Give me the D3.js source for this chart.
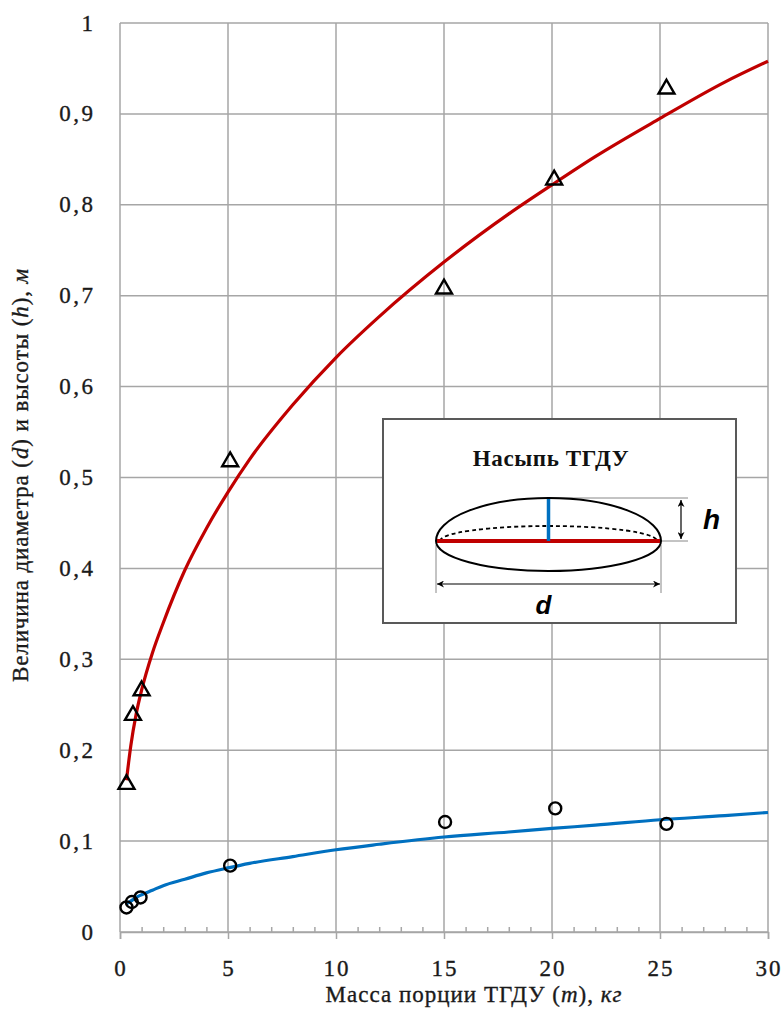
<!DOCTYPE html>
<html>
<head>
<meta charset="utf-8">
<script src="https://cdn.jsdelivr.net/npm/d3@7/dist/d3.min.js"></script>
<style>
  html, body { margin: 0; padding: 0; background: #fff; }
  svg { display: block; }
  .axtxt { stroke: #1a1a1a; stroke-width: 0.35; paint-order: stroke; }
</style>
</head>
<body>
<svg id="chart" width="783" height="1028"></svg>
<script>
// ---- Data ----
const massD = [0.3, 0.6, 1.0, 5.1, 15.0, 20.1, 25.3];          // m, kg (triangles)
const diamD = [0.165, 0.241, 0.268, 0.52, 0.71, 0.83, 0.93];    // d, m
const massH = [0.3, 0.55, 0.95, 5.1, 15.05, 20.15, 25.3];       // m, kg (circles)
const heightH = [0.027, 0.033, 0.038, 0.073, 0.121, 0.136, 0.119]; // h, m

const trendM = [0.3, 0.5, 0.75, 1, 1.5, 2, 3, 4, 5, 6, 8, 10, 12, 15, 18, 20, 22, 25, 28, 30];
const trendD = [0.167, 0.205, 0.24, 0.266, 0.307, 0.34, 0.398, 0.444, 0.484, 0.52, 0.58, 0.632, 0.677, 0.737, 0.79, 0.822, 0.853, 0.895, 0.935, 0.958];
const trendH = [0.031, 0.034, 0.038, 0.041, 0.046, 0.051, 0.058, 0.065, 0.0705, 0.0755, 0.083, 0.0905, 0.0965, 0.1045, 0.11, 0.114, 0.1175, 0.1235, 0.128, 0.1315];

const xTicks = [0, 5, 10, 15, 20, 25, 30];
const yTicks = [0, 0.1, 0.2, 0.3, 0.4, 0.5, 0.6, 0.7, 0.8, 0.9, 1];
const xMinorTicks = d3.range(0, 31, 1);

const xTitleParts = [["Масса порции ТГДУ (", false], ["m", true], ["), ", false], ["кг", true]];
const yTitleParts = [["Величина диаметра (", false], ["d", true], [") и высоты (", false], ["h", true], ["), ", false], ["м", true]];
const insetTitle = "Насыпь ТГДУ";

// ---- Layout ----
const svg = d3.select("#chart");
const margin = { left: 120, top: 23, right: 15, bottom: 96 };
const W = 783, H = 1028;
const x = d3.scaleLinear().domain([0, 30]).range([margin.left, W - margin.right]);
const y = d3.scaleLinear().domain([0, 1]).range([H - margin.bottom, margin.top]);

const gridColor = "#a6a6a6";
const textColor = "#1a1a1a";
const serif = "'Liberation Serif', 'Times New Roman', serif";
const sans = "'Liberation Sans', Arial, sans-serif";

// grid
const grid = svg.append("g");
grid.selectAll("line.h").data(yTicks).join("line")
  .attr("x1", x(0)).attr("x2", x(30))
  .attr("y1", d => y(d)).attr("y2", d => y(d))
  .attr("stroke", gridColor).attr("stroke-width", 1.5);
grid.selectAll("line.v").data(xTicks).join("line")
  .attr("x1", d => x(d)).attr("x2", d => x(d))
  .attr("y1", y(0)).attr("y2", y(1))
  .attr("stroke", gridColor).attr("stroke-width", 1.5);

// x axis ticks: major below, minor above
const xAxisG = svg.append("g").attr("transform", `translate(0,${y(0)})`);
xAxisG.call(d3.axisBottom(x).tickValues(xTicks).tickSize(7).tickFormat(""));
xAxisG.select(".domain").attr("stroke", gridColor).attr("stroke-width", 1.5);
xAxisG.selectAll(".tick line").attr("stroke", gridColor).attr("stroke-width", 1.5);
const minorG = svg.append("g").attr("transform", `translate(0,${y(0)})`);
minorG.call(d3.axisTop(x).tickValues(xMinorTicks.filter(v => v % 5 !== 0)).tickSize(5).tickFormat(""));
minorG.select(".domain").remove();
minorG.selectAll(".tick line").attr("stroke", gridColor).attr("stroke-width", 1.5);

// tick labels
svg.append("g").selectAll("text").data(xTicks).join("text")
  .attr("class", "axtxt")
  .attr("x", d => x(d) + 1).attr("y", y(0) + 44)
  .attr("text-anchor", "middle")
  .attr("font-family", serif).attr("font-size", 23).attr("letter-spacing", 2).attr("fill", textColor)
  .text(d => d);
svg.append("g").selectAll("text").data(yTicks).join("text")
  .attr("class", "axtxt")
  .attr("x", 95.5).attr("y", d => y(d) + 7.5)
  .attr("text-anchor", "end")
  .attr("font-family", serif).attr("font-size", 23).attr("letter-spacing", 2.5).attr("fill", textColor)
  .text(d => d3.format("~g")(d).replace(".", ","));

// axis titles
const xt = svg.append("text")
  .attr("class", "axtxt")
  .attr("x", 474).attr("y", 1002)
  .attr("text-anchor", "middle")
  .attr("font-family", serif).attr("font-size", 23).attr("letter-spacing", 1).attr("fill", textColor);
xt.selectAll("tspan").data(xTitleParts).join("tspan")
  .attr("font-style", d => d[1] ? "italic" : "normal").text(d => d[0]);

const yt = svg.append("text")
  .attr("class", "axtxt")
  .attr("transform", `translate(28,475) rotate(-90)`)
  .attr("text-anchor", "middle")
  .attr("font-family", serif).attr("font-size", 23).attr("letter-spacing", 0.9).attr("fill", textColor);
yt.selectAll("tspan").data(yTitleParts).join("tspan")
  .attr("font-style", d => d[1] ? "italic" : "normal").text(d => d[0]);

// trend lines
const line = d3.line().x(d => x(d[0])).y(d => y(d[1])).curve(d3.curveMonotoneX);
svg.append("path").datum(trendM.map((m, i) => [m, trendD[i]]))
  .attr("d", line).attr("fill", "none").attr("stroke", "#c00000").attr("stroke-width", 3.2);
svg.append("path").datum(trendM.map((m, i) => [m, trendH[i]]))
  .attr("d", line).attr("fill", "none").attr("stroke", "#0070c0").attr("stroke-width", 3.2);

// markers
const tri = d3.symbol().type(d3.symbolTriangle).size(110);
svg.append("g").selectAll("path").data(massD.map((m, i) => [m, diamD[i]])).join("path")
  .attr("d", tri)
  .attr("transform", d => `translate(${x(d[0])},${y(d[1]) + 2.3})`)
  .attr("fill", "none").attr("stroke", "#000").attr("stroke-width", 2.4);
svg.append("g").selectAll("circle").data(massH.map((m, i) => [m, heightH[i]])).join("circle")
  .attr("cx", d => x(d[0])).attr("cy", d => y(d[1])).attr("r", 6)
  .attr("fill", "none").attr("stroke", "#000").attr("stroke-width", 2.4);

// ---- Inset diagram ----
const bx = 383, by = 419, bw = 353, bh = 204;
const inset = svg.append("g");
inset.append("rect").attr("x", bx).attr("y", by).attr("width", bw).attr("height", bh)
  .attr("fill", "#fff").attr("stroke", "#595959").attr("stroke-width", 2);
inset.append("text").attr("x", bx + 168).attr("y", by + 47)
  .attr("text-anchor", "middle").attr("font-family", serif).attr("font-weight", "bold")
  .attr("font-size", 23).attr("letter-spacing", 0.6).attr("fill", "#111").text(insetTitle);

const defs = svg.append("defs");
defs.append("marker").attr("id", "arr").attr("viewBox", "0 0 10 10")
  .attr("refX", 10).attr("refY", 5).attr("markerWidth", 7).attr("markerHeight", 7)
  .attr("markerUnits", "userSpaceOnUse").attr("orient", "auto-start-reverse")
  .append("path").attr("d", "M0,0 L10,5 L0,10 L3,5 Z").attr("fill", "#000");

const L = bx + 53, R = bx + 278, cy = by + 122, cxm = (L + R) / 2;
const rx = (R - L) / 2;
// extension lines
const thin = "#888";
inset.append("line").attr("x1", cxm).attr("x2", bx + 305).attr("y1", cy - 43).attr("y2", cy - 43).attr("stroke", thin).attr("stroke-width", 1);
inset.append("line").attr("x1", R).attr("x2", bx + 305).attr("y1", cy).attr("y2", cy).attr("stroke", thin).attr("stroke-width", 1);
inset.append("line").attr("x1", L).attr("x2", L).attr("y1", cy + 4).attr("y2", cy + 52).attr("stroke", thin).attr("stroke-width", 1);
inset.append("line").attr("x1", R).attr("x2", R).attr("y1", cy + 4).attr("y2", cy + 52).attr("stroke", thin).attr("stroke-width", 1);
// dimension arrows
inset.append("line").attr("x1", bx + 298).attr("x2", bx + 298).attr("y1", cy - 41).attr("y2", cy - 2)
  .attr("stroke", "#000").attr("stroke-width", 1.2).attr("marker-start", "url(#arr)").attr("marker-end", "url(#arr)");
inset.append("line").attr("x1", L + 1).attr("x2", R - 1).attr("y1", cy + 43).attr("y2", cy + 43)
  .attr("stroke", "#000").attr("stroke-width", 1.2).attr("marker-start", "url(#arr)").attr("marker-end", "url(#arr)");
// ellipse body
inset.append("path")
  .attr("d", `M${L},${cy} A${rx},43 0 0 1 ${R},${cy} A${rx},30 0 0 1 ${L},${cy} Z`)
  .attr("fill", "none").attr("stroke", "#000").attr("stroke-width", 2);
inset.append("path")
  .attr("d", `M${L + 4},${cy} A${rx - 4},15 0 0 1 ${R - 4},${cy}`)
  .attr("fill", "none").attr("stroke", "#000").attr("stroke-width", 1.8).attr("stroke-dasharray", "4,3");
inset.append("line").attr("x1", L + 1).attr("x2", R - 1).attr("y1", cy).attr("y2", cy)
  .attr("stroke", "#c00000").attr("stroke-width", 4);
inset.append("line").attr("x1", cxm).attr("x2", cxm).attr("y1", cy - 42).attr("y2", cy)
  .attr("stroke", "#0070c0").attr("stroke-width", 3.5);
inset.append("text").attr("x", bx + 320).attr("y", cy - 12)
  .attr("text-anchor", "start").attr("font-family", sans).attr("font-weight", "bold").attr("font-style", "italic")
  .attr("font-size", 28).attr("fill", "#000").text("h");
inset.append("text").attr("x", cxm - 5).attr("y", by + 195)
  .attr("text-anchor", "middle").attr("font-family", sans).attr("font-weight", "bold").attr("font-style", "italic")
  .attr("font-size", 26).attr("fill", "#000").text("d");
</script>
</body>
</html>
